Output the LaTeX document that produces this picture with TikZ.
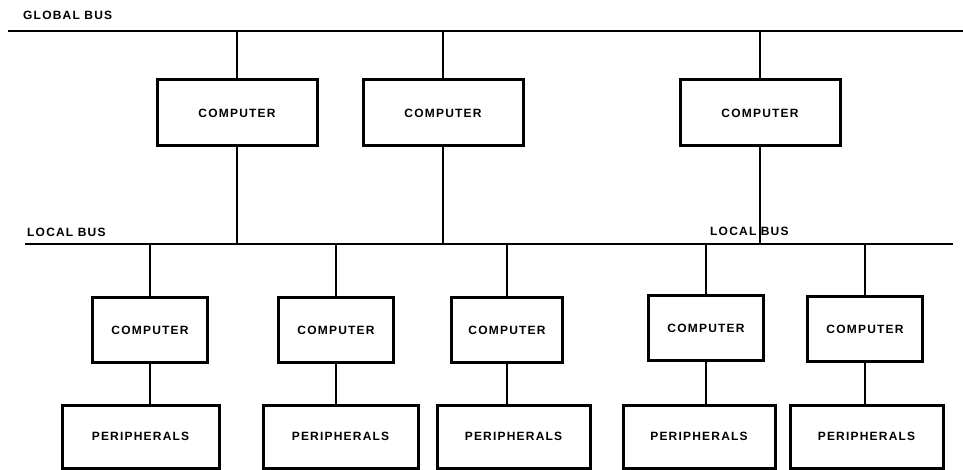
\documentclass[tikz,border=0pt]{standalone}
\usepackage{fontspec}
\setmainfont{Liberation Sans}[LetterSpace=10]
\begin{document}
\begin{tikzpicture}[x=1pt,y=-1pt,
  box/.style={draw=black,line width=3pt,rectangle,inner sep=0pt,font=\fontsize{12}{14}\selectfont\bfseries},
  topbox/.style={box,minimum width=160pt,minimum height=66pt},
  cbox/.style={box,minimum width=115pt,minimum height=65pt},
  pbox/.style={box,minimum height=63pt},
  bus/.style={line width=2pt},
  link/.style={line width=1.5pt},
  lbl/.style={inner sep=0pt,anchor=west,font=\fontsize{12}{14}\selectfont\bfseries}]
\useasboundingbox (0,0) rectangle (963,470);
% buses
\coordinate (gL) at (8,31);
\coordinate (gR) at (963,31);
\coordinate (lL) at (25,244);
\coordinate (lR) at (953,244);
\draw[bus] (gL) -- (gR);
\draw[bus] (lL) -- (lR);
\node[lbl] (glabel) at (23,15) {GLOBAL BUS};
\node[lbl] (llabel1) at (27,232) {LOCAL BUS};
\node[lbl] (llabel2) at (710,231) {LOCAL BUS};
% top computers
\node[topbox] (tc1) at (237,113) {COMPUTER};
\node[topbox] (tc2) at (443,113) {COMPUTER};
\node[topbox] (tc3) at (760,113) {COMPUTER};
\foreach \n in {tc1,tc2,tc3}{
  \draw[link] (\n.north) -- (\n.north |- gL);
  \draw[link] (\n.south) -- (\n.south |- lL);
}
% bottom computers
\node[cbox] (b1) at (150,330) {COMPUTER};
\node[cbox] (b2) at (336,330) {COMPUTER};
\node[cbox,minimum width=111pt] (b3) at (507,330) {COMPUTER};
\node[cbox] (b4) at (706,328) {COMPUTER};
\node[cbox] (b5) at (865,329) {COMPUTER};
% peripherals
\node[pbox,minimum width=157pt] (p1) at (140.5,436.5) {PERIPHERALS};
\node[pbox,minimum width=155pt] (p2) at (340.5,436.5) {PERIPHERALS};
\node[pbox,minimum width=153pt] (p3) at (513.5,436.5) {PERIPHERALS};
\node[pbox,minimum width=152pt] (p4) at (699,436.5) {PERIPHERALS};
\node[pbox,minimum width=153pt] (p5) at (866.5,436.5) {PERIPHERALS};
\foreach \b/\p in {b1/p1,b2/p2,b3/p3,b4/p4,b5/p5}{
  \draw[link] (\b.north) -- (\b.north |- lL);
  \draw[link] (\b.south) -- (\b.south |- \p.north);
}
\end{tikzpicture}
\end{document}
